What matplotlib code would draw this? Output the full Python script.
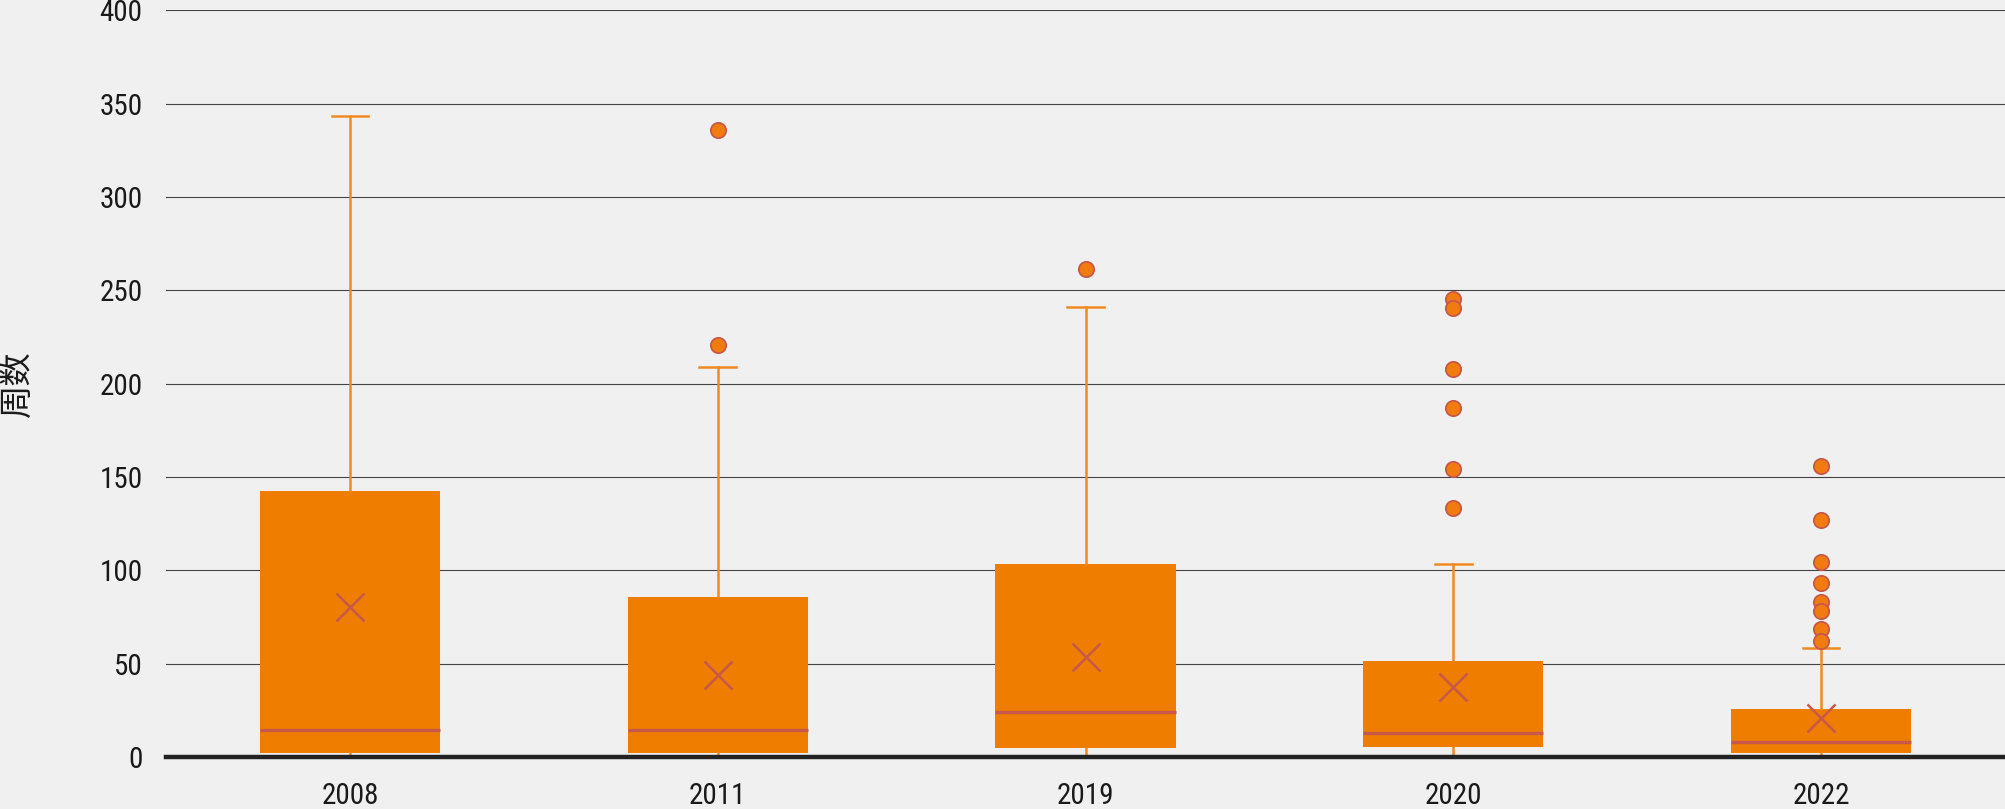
import matplotlib.pyplot as plt
import numpy as np
from matplotlib import font_manager

# values (weeks)
years = ['2008', '2011', '2019', '2020', '2022']
q1 = [2.0, 2.0, 5.0, 5.2, 2.0]
q3 = [142.5, 85.6, 103.2, 51.6, 25.6]
medians = [14.5, 14.5, 24.3, 13.0, 8.0]
means = [80.5, 43.9, 53.7, 37.3, 21.1]
whis_low = [0, 0, 0, 0, 0]
whis_high = [343.3, 209.1, 241.0, 103.6, 58.2]
outliers = [
    [],
    [335.9, 220.7],
    [261.3],
    [245.2, 240.4, 207.9, 186.8, 154.5, 133.6],
    [156.1, 127.0, 104.5, 93.1, 83.2, 78.4, 68.7, 62.1],
]

BG = '#f0f0f0'
ORANGE = '#ee7d00'
RED = '#c8584a'


def pick_font():
    names = {f.name for f in font_manager.fontManager.ttflist}
    for cand in ['Liberation Sans Narrow', 'DejaVu Sans Condensed', 'Roboto Condensed']:
        if cand in names:
            return cand
    return 'DejaVu Sans'


def plot():
    fig = plt.figure(figsize=(20.05, 8.09), dpi=100, facecolor=BG)
    ax = fig.add_axes([0.0828, 0.0643, 0.9172, 0.9228], facecolor=BG)

    stats = []
    for i, year in enumerate(years):
        stats.append(dict(label=year, q1=q1[i], q3=q3[i], med=medians[i], mean=means[i],
                          whislo=whis_low[i], whishi=whis_high[i], fliers=outliers[i]))

    positions = np.arange(len(years))
    ax.bxp(stats, positions=positions, widths=0.49, capwidths=0.1, patch_artist=True,
           showmeans=True, showfliers=True,
           boxprops=dict(facecolor=ORANGE, edgecolor=ORANGE, linewidth=0),
           medianprops=dict(color=RED, linewidth=2.4),
           whiskerprops=dict(color='#f08a22', linewidth=1.8),
           capprops=dict(color='#f08a22', linewidth=1.8),
           meanprops=dict(marker='x', markersize=20, markeredgewidth=1.8,
                          markeredgecolor=RED, markerfacecolor=RED),
           flierprops=dict(marker='o', markersize=11, markerfacecolor='#f07c10',
                           markeredgecolor=RED, markeredgewidth=1.3))

    ax.set_xlim(-0.5, len(years) - 0.5)
    ax.set_ylim(0, 400)
    ax.set_yticks(np.arange(0, 401, 50))
    ax.yaxis.grid(True, color='#444444', linewidth=0.8)
    ax.set_axisbelow(True)
    ax.axhline(0, color='#222222', linewidth=3.2, zorder=5, clip_on=False)

    for s in ax.spines.values():
        s.set_visible(False)
    ax.tick_params(axis='both', length=0)
    ax.tick_params(axis='x', pad=18)
    ax.tick_params(axis='y', pad=17)
    font = pick_font()
    for lab in ax.get_xticklabels() + ax.get_yticklabels():
        lab.set_fontfamily(font)
        lab.set_fontsize(21)
        lab.set_color('#1a1a1a')

    fig.text(0.0085, 0.526, '周数', rotation=90, ha='center', va='center',
             fontsize=24, color='#1a1a1a', family=['Noto Sans CJK SC', 'DejaVu Sans'])

    plt.savefig('out.png', dpi=100, facecolor=BG)
    plt.close()


if __name__ == "__main__":
    plot()
